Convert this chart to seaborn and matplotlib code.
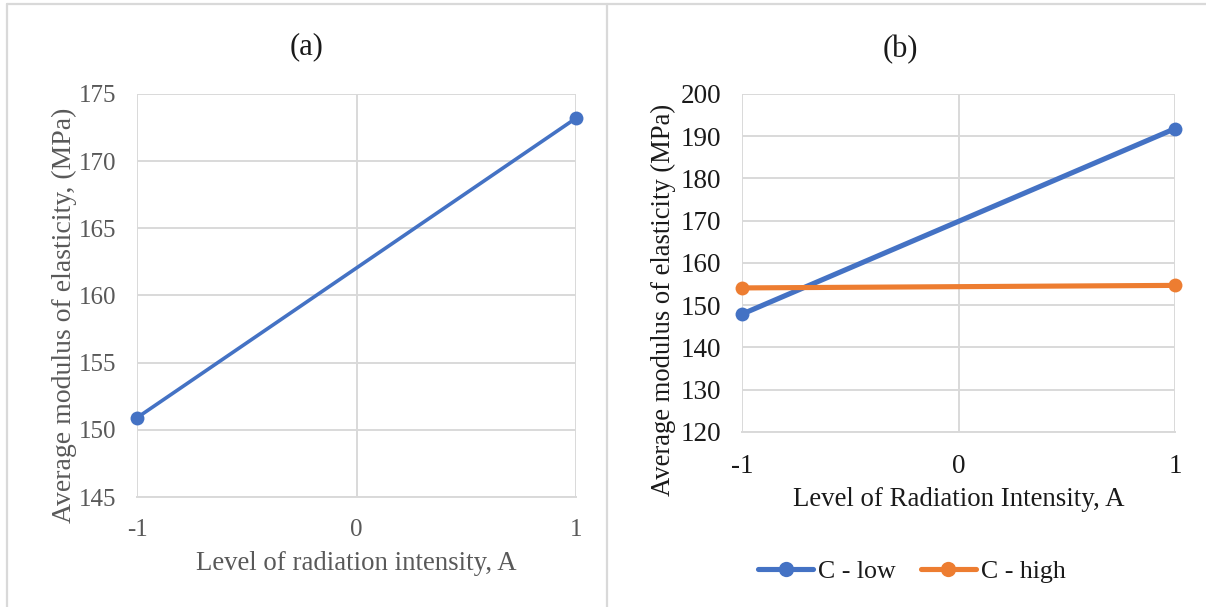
import matplotlib
matplotlib.use("Agg")
import matplotlib.pyplot as plt
import seaborn as sns
import pandas as pd
from matplotlib.lines import Line2D

sns.set_theme(style="white")
plt.rcParams['font.family'] = ['Liberation Serif', 'DejaVu Serif']

# Data
levels = [-1, 1]
a_values = [150.9, 173.2]
b_low = [147.9, 191.8]
b_high = [154.1, 154.7]
series_names = ["C - low", "C - high"]
a_yticks = [145, 150, 155, 160, 165, 170, 175]
b_yticks = [120, 130, 140, 150, 160, 170, 180, 190, 200]
x_ticks = [-1, 0, 1]

blue = "#4472C4"
orange = "#ED7D31"
grid_c = "#D9D9D9"
gray_txt = "#595959"
dark_txt = "#1a1a1a"

fig = plt.figure(figsize=(12.06, 6.07), dpi=100)

# panel borders
W, H = 1206, 607
def fx(x): return x / W
def fy(y): return 1 - y / H
fig.add_artist(Line2D([fx(6.5), fx(6.5)], [fy(4), 0], color=grid_c, lw=1.6))
fig.add_artist(Line2D([fx(6.5), 1], [fy(4), fy(4)], color=grid_c, lw=1.6))
fig.add_artist(Line2D([fx(607), fx(607)], [fy(4), 0], color=grid_c, lw=1.6))

ax1 = fig.add_axes([fx(137), fy(497), fx(576) - fx(137), fy(94) - fy(497)])
ax2 = fig.add_axes([fx(742), fy(432), fx(1175) - fx(742), fy(94) - fy(432)])

df_a = pd.DataFrame({"A": levels, "E": a_values})
sns.lineplot(data=df_a, x="A", y="E", ax=ax1, color=blue, lw=2.6,
             marker="o", markersize=10, markeredgewidth=0, clip_on=False, zorder=5)

df_b = pd.DataFrame({
    "A": levels * 2,
    "E": b_low + b_high,
    "C": [series_names[0]] * 2 + [series_names[1]] * 2,
})
sns.lineplot(data=df_b, x="A", y="E", hue="C", ax=ax2,
             palette=[blue, orange], lw=3.7, marker="o", markersize=10,
             markeredgewidth=0, clip_on=False, zorder=5, legend=False)

for ax, yt, txtc, fs in [(ax1, a_yticks, gray_txt, 18), (ax2, b_yticks, dark_txt, 19.5)]:
    ax.set_xlim(-1, 1)
    ax.set_ylim(yt[0], yt[-1])
    ax.set_xticks(x_ticks)
    ax.set_xticklabels([str(v) for v in x_ticks])
    ax.set_yticks(yt)
    ax.grid(True, color=grid_c, lw=1.4)
    ax.set_axisbelow(True)
    for s in ["top", "right", "left"]:
        ax.spines[s].set_visible(False)
    ax.spines["bottom"].set_color(grid_c)
    ax.spines["bottom"].set_linewidth(1.4)
    ax.tick_params(axis="both", length=0, labelsize=fs, colors=txtc)
    ax.tick_params(axis="x", pad=16)
    ax.tick_params(axis="y", pad=15)

ax1.set_xlabel("Level of radiation intensity, A", fontsize=19.3, color=gray_txt, va="center")
ax1.set_ylabel("Average modulus of elasticity, (MPa)", fontsize=20, color=gray_txt, va="center")
ax1.xaxis.set_label_coords(0.5, (497 - 563) / 403)
ax1.yaxis.set_label_coords((64 - 137) / 439, (497 - 315) / 403)

ax2.set_xlabel("Level of Radiation Intensity, A", fontsize=19.4, color=dark_txt, va="center")
ax2.set_ylabel("Average modulus of elasticity (MPa)", fontsize=19.2, color=dark_txt, va="center")
ax2.xaxis.set_label_coords(0.5, (432 - 500) / 338)
ax2.yaxis.set_label_coords((663 - 742) / 433, (432 - 300) / 338)

fig.text(fx(307), fy(47), "(a)", ha="center", va="center", fontsize=22, color=dark_txt)
fig.text(fx(900), fy(50), "(b)", ha="center", va="center", fontsize=22, color=dark_txt)

handles = [Line2D([0], [0], color=blue, lw=3.7, marker="o", markersize=11, markeredgewidth=0),
           Line2D([0], [0], color=orange, lw=3.7, marker="o", markersize=11, markeredgewidth=0)]
fig.legend(handles, series_names, loc="center", bbox_to_anchor=(fx(912), fy(571)),
           ncol=2, frameon=False, fontsize=18.6, handlelength=2.1, handletextpad=0.2,
           columnspacing=1.0, labelcolor=dark_txt)

fig.savefig("out.png", dpi=100)
